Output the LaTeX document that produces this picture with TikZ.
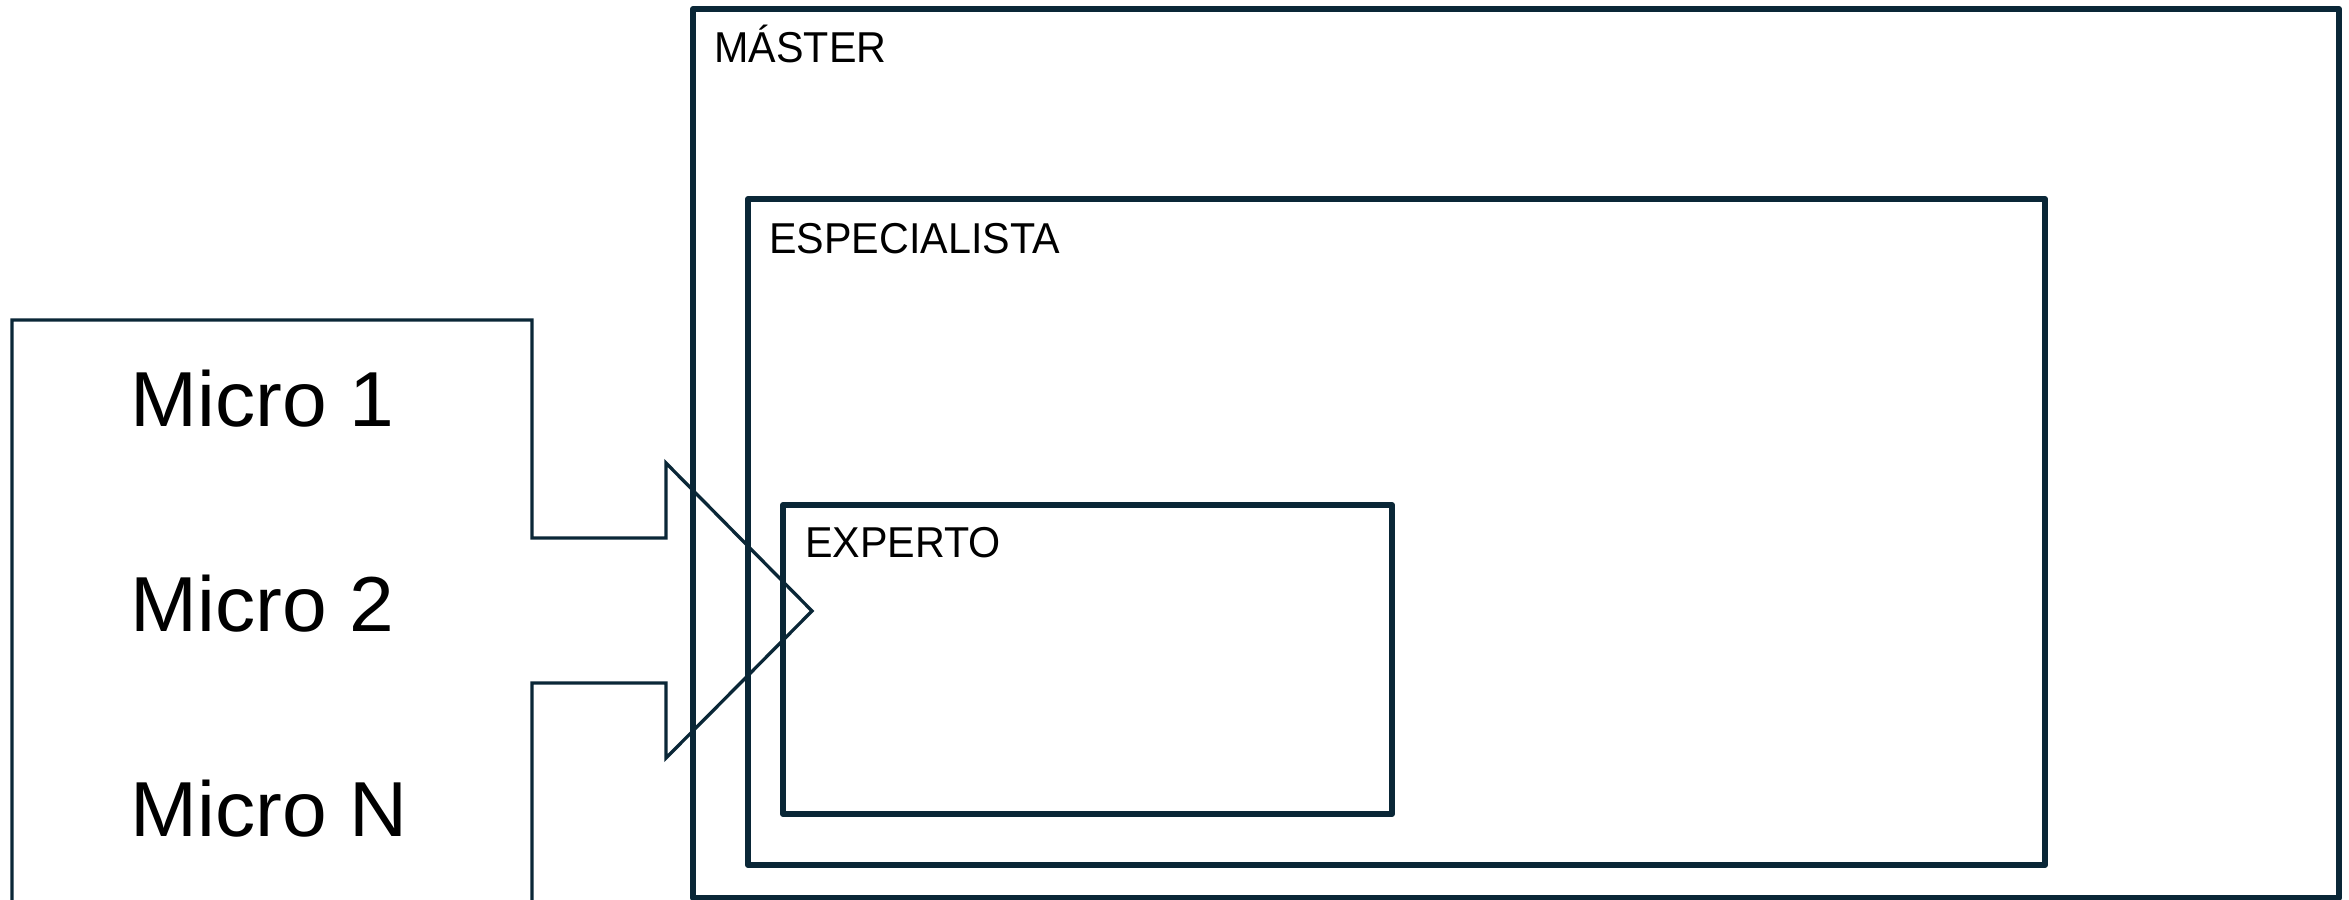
\documentclass[tikz,border=0pt]{standalone}
\usepackage{fontspec}
\setmainfont{Liberation Sans}
\newfontfamily\labelfont[FakeStretch=0.955]{Liberation Sans}
\newfontfamily\microfont[FakeStretch=1.03]{Liberation Sans}
\definecolor{navy}{HTML}{0A2737}
\begin{document}
\begin{tikzpicture}[x=0.5pt,y=-0.5pt,
  levelbox/.style={draw=navy,line width=3pt,line join=round},
  microline/.style={draw=navy,line width=1.65pt,line join=miter},
  boxlabel/.style={anchor=base west,inner sep=0pt,text=black,font=\labelfont\fontsize{21.6}{24}\selectfont},
  microlabel/.style={anchor=base west,inner sep=0pt,text=black,font=\microfont\fontsize{39}{44}\selectfont}]
\useasboundingbox (0,0) rectangle (2349,899);
\clip (0,0) rectangle (2349,899);
% level boxes
\coordinate (masterNW) at (693,9);
\coordinate (masterSE) at (2339,898);
\coordinate (espNW) at (748,199);
\coordinate (espSE) at (2045,865);
\coordinate (expNW) at (783,505);
\coordinate (expSE) at (1392,814);
\draw[levelbox] (masterNW) rectangle (masterSE);
\draw[levelbox] (espNW) rectangle (espSE);
\draw[levelbox] (expNW) rectangle (expSE);
\node[boxlabel] (master) at (714,63) {MÁSTER};
\node[boxlabel] (esp) at (769,253) {ESPECIALISTA};
\node[boxlabel] (exp) at (805,557) {EXPERTO};
% micro block with arrow
\coordinate (mBL) at (12,915);
\coordinate (mTL) at (12,320);
\coordinate (mTR) at (532,320);
\coordinate (n1) at (532,538);
\coordinate (n2) at (666,538);
\coordinate (n3) at (666,463);
\coordinate (tip) at (812,611);
\coordinate (n4) at (666,758);
\coordinate (n5) at (666,683);
\coordinate (n6) at (532,683);
\coordinate (mBR) at (532,915);
\draw[microline] (mBL) -- (mTL) -- (mTR) -- (n1) -- (n2) -- (n3) -- (tip) -- (n4) -- (n5) -- (n6) -- (mBR);
\node[microlabel] (m1) at (130,426) {Micro 1};
\node[microlabel] (m2) at (130,631) {Micro 2};
\node[microlabel] (mN) at (130,836) {Micro N};
\end{tikzpicture}
\end{document}
